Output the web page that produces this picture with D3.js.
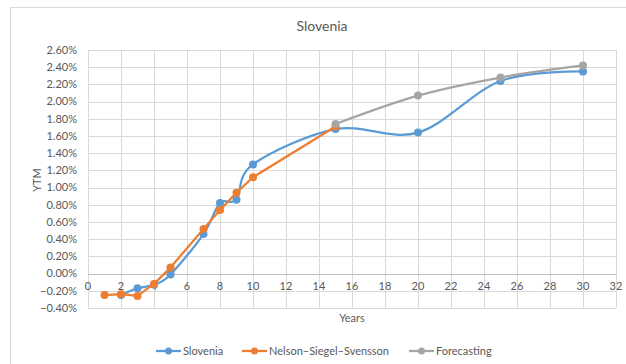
<!DOCTYPE html>
<html><head><meta charset="utf-8">
<script src="https://cdn.jsdelivr.net/npm/d3@7"></script>
<style>body{margin:0;background:#fff}svg{display:block}text{font-family:Lato,"Open Sans",sans-serif;fill:#595959}</style>
</head><body>
<svg id="c" width="626" height="364"></svg>
<script>
const sloveniaYears = [2,3,4,5,7,8,9,10,15,20,25,30];
const sloveniaYTM  = [-0.25,-0.17,-0.13,-0.01,0.46,0.82,0.86,1.27,1.68,1.64,2.24,2.35];
const nssYears = [1,2,3,4,5,7,8,9,10,15];
const nssYTM   = [-0.25,-0.24,-0.26,-0.12,0.07,0.52,0.74,0.94,1.12,1.71];
const fcYears = [15,20,25,30];
const fcYTM   = [1.74,2.07,2.28,2.42];
const xTicks = d3.range(0,33,2);
const yTicks = d3.range(-0.4,2.61,0.2).map(v=>+v.toFixed(2));
const seriesNames = ["Slovenia","Nelson–Siegel–Svensson","Forecasting"];
const colors = ["#5B9BD5","#ED7D31","#A5A5A5"];

const svg = d3.select("#c");
// chart border
svg.append("rect").attr("x",10.5).attr("y",7.5).attr("width",640).attr("height",400)
  .attr("fill","none").attr("stroke","#d9d9d9");

const x = d3.scaleLinear().domain([0,32]).range([88,616]);
const y = d3.scaleLinear().domain([-0.4,2.6]).range([308,50]);

// gridlines
svg.append("g").selectAll("line").data(yTicks).join("line")
  .attr("x1",x(0)).attr("x2",x(32)).attr("y1",d=>Math.round(y(d))+0.5).attr("y2",d=>Math.round(y(d))+0.5)
  .attr("stroke","#d9d9d9").attr("stroke-width",1);
svg.append("g").selectAll("line").data(xTicks).join("line")
  .attr("y1",y(2.6)).attr("y2",y(-0.4)).attr("x1",d=>Math.round(x(d))+0.5).attr("x2",d=>Math.round(x(d))+0.5)
  .attr("stroke","#d9d9d9").attr("stroke-width",1);
// x axis line at 0
svg.append("line").attr("x1",x(0)).attr("x2",x(32)).attr("y1",Math.round(y(0))+0.5).attr("y2",Math.round(y(0))+0.5)
  .attr("stroke","#bfbfbf").attr("stroke-width",1);

// y labels
svg.append("g").selectAll("text").data(yTicks).join("text")
  .attr("x",77).attr("y",d=>y(d)).attr("dy","0.35em").attr("text-anchor","end")
  .style("font-size","11px").text(d=>d3.format(".2f")(d)+"%");
// x labels
svg.append("g").selectAll("text").data(xTicks).join("text")
  .attr("x",d=>x(d)).attr("y",y(0)+16).attr("text-anchor","middle")
  .style("font-size","11px").text(d=>d);

// titles
svg.append("text").attr("x",322).attr("y",31).attr("text-anchor","middle").style("font-size","14px").text("Slovenia");
svg.append("text").attr("transform","translate(37,180) rotate(-90)").attr("text-anchor","middle").attr("dy","0.35em")
  .style("font-size","11px").text("YTM");
svg.append("text").attr("x",352).attr("y",322).attr("text-anchor","middle").style("font-size","11px").text("Years");

const data = [
  {xs:sloveniaYears, ys:sloveniaYTM, curve:d3.curveCardinal.tension(0)},
  {xs:nssYears, ys:nssYTM, curve:d3.curveLinear},
  {xs:fcYears, ys:fcYTM, curve:d3.curveCardinal.tension(0)}
];
data.forEach((s,i)=>{
  const pts = s.xs.map((v,j)=>[v,s.ys[j]]);
  const line = d3.line().x(d=>x(d[0])).y(d=>y(d[1])).curve(s.curve);
  svg.append("path").attr("d",line(pts)).attr("fill","none").attr("stroke",colors[i])
    .attr("stroke-width",2.25).attr("stroke-linejoin","round").attr("stroke-linecap","round");
  svg.append("g").selectAll("circle").data(pts).join("circle")
    .attr("cx",d=>x(d[0])).attr("cy",d=>y(d[1])).attr("r",4).attr("fill",colors[i]);
});

// legend
const legX = [156,242,409];
seriesNames.forEach((n,i)=>{
  const g = svg.append("g");
  g.append("line").attr("x1",legX[i]).attr("x2",legX[i]+25).attr("y1",351).attr("y2",351)
    .attr("stroke",colors[i]).attr("stroke-width",2.25);
  g.append("circle").attr("cx",legX[i]+12.5).attr("cy",351).attr("r",3.5).attr("fill",colors[i]);
  g.append("text").attr("x",legX[i]+27).attr("y",351).attr("dy","0.35em").style("font-size","11px").text(n);
});
</script>
</body></html>
